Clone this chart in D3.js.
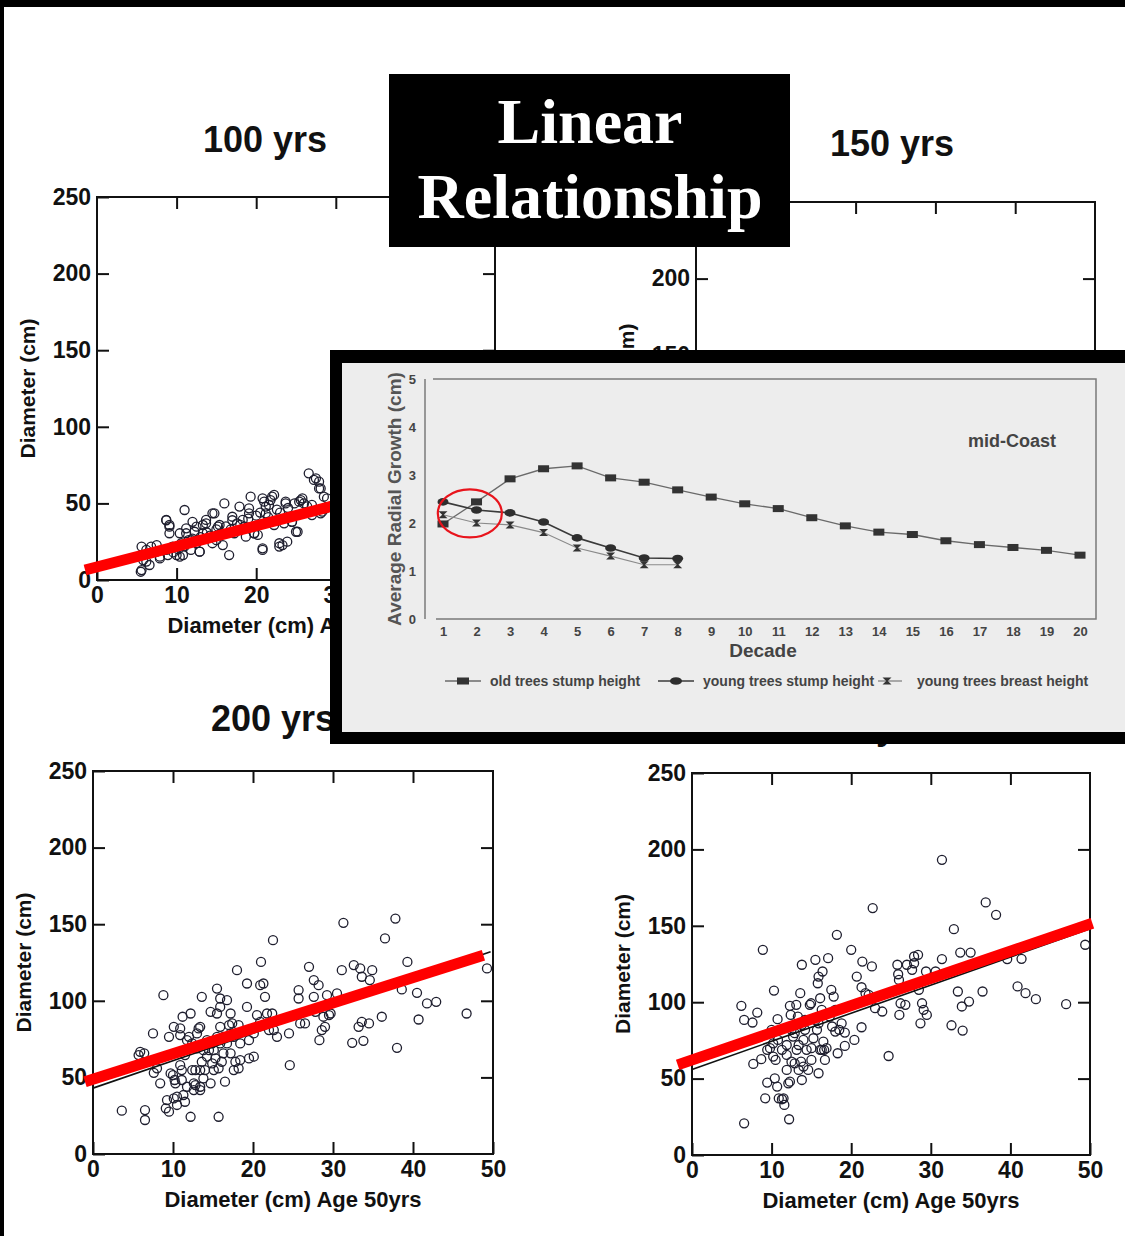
<!DOCTYPE html>
<html>
<head>
<meta charset="utf-8">
<script src="https://cdn.jsdelivr.net/npm/d3@7"></script>
<style>
  html, body { margin: 0; padding: 0; background: #fff; }
  svg { display: block; }
</style>
</head>
<body>
<svg id="chart" width="1125" height="1236"></svg>
<script>
// ---- scatter panels: axis values ----
const xTicks = [0, 10, 20, 30, 40, 50];
const yTicks = [0, 50, 100, 150, 200, 250];
const innerXTicks = [10, 20, 30, 40];
const innerYTicks = [50, 100, 150, 200];
const xLabel = "Diameter (cm) Age 50yrs";
const yLabel = "Diameter (cm)";

// ---- 100 yrs (top left), [diameter at 50, diameter] ----
const pts100 = [
  [5.5,5.4],[5.6,21.8],[6.2,12],[6.6,9.8],[7.5,18.5],[7.9,14.1],[8.7,39.2],[9.1,35.9],[9.1,30.5],
  [8.9,16.3],[10,16.3],[10.4,30.5],[10.8,16.3],[11,45.7],[11.2,33.7],[12,38],[12.25,31.5],[12.5,24],
  [12.9,18.5],[13.3,35.9],[13.7,39.2],[14.5,24],[14.75,43.5],[15.4,35.9],[15.8,22.8],[16,50],[16.6,16.3],
  [17,41.3],[17.9,47.9],[18.3,39.2],[18.7,28.3],[19.1,46.8],[19.3,54.4],[19.75,30.5],[20.2,29.4],[20.8,53.3],
  [20.8,19.6],[21.2,47.9],[21.6,49],[22,54.4],[22.25,35.9],[22.9,24],[23.3,22.8],[23.9,25],[23.7,51.1],
  [24.5,38],[25.2,31.5],[25.4,51.1],[25.8,53.3],[26.6,69.6],[27,42.4],[27.25,65.3],[27.9,64.2],[28.1,59.8],
  [28.3,44.6],[28.7,46.8],[28.9,53.3],
  [5.6,6.5],[5.8,13],[6.2,19.6],[6.8,21.8],[7.5,22.8],[7.9,15.2],[8.7,39],[9.1,34.8],[8.7,19.6],[9.5,21.8],
  [10.4,15.2],[10.6,24],[11.2,30.5],[11.8,19.6],[12.5,34.8],[12.9,18.5],[13.3,30.5],[13.7,37],[14.5,43.5],
  [15,26],[15.2,34.8],[15.6,30.5],[17,39],[17.25,30.5],[18.5,34.8],[19.1,43.5],[19.75,30.5],[20.8,20.7],
  [21,51.1],[21.2,43.5],[21.8,52.2],[22.25,55.5],[22.9,21.8],[23.5,37],[23.7,50],[24.5,38],[25,31.5],
  [25.6,52.2],[27,49],[27.5,66.4],[27.9,59.8],[28.1,43.5],[28.5,54.4],
  [9.6,18],[10.2,20],[11,22],[11.5,26],[12,27],[13,28],[13.8,31],[14.2,29],[15,33],[16.2,35],[16.8,33],
  [17.6,37],[18,36],[19,40],[20,42],[20.5,44],[21.5,41],[22.6,46],[23,44],[24,47],[24.8,50],[26,50],[26.4,48]
];
const red100 = [[-1.5, 6.5], [48, 73]];

// ---- 150 yrs (top right): fully covered below 150 cm ----
const pts150 = [];

// ---- 200 yrs (bottom left) ----
const pts200 = [
  [3.6,28.3],[6.5,28.7],[6.5,22.2],[5.9,66.7],[5.7,64.6],[6.4,65.7],[7.5,78.7],[7.6,53],[8,55.9],[8.4,46.1],
  [8.8,103.7],[9.25,35.2],[9.1,29.8],[9.5,27.6],[9.5,76.5],[10,51.5],[10.1,83],[10.2,48.3],[10.3,46.1],
  [10.5,37.4],[10.5,32],[10.9,82],[10.9,77.6],[10.9,58],[11.1,48.3],[11.2,89.6],[11.3,38.5],[11.5,34.1],
  [11.75,43.9],[12,76.5],[12.2,91.7],[12.2,24.3],[12.4,54.8],[12.6,46.1],[12.6,41.7],[12.8,54.8],[13,78.7],
  [13.2,82],[13.4,83],[13.6,102.6],[13.6,60.2],[13.8,49.3],[14,54.8],[14.25,63.5],[14.5,67.8],[14.7,92.8],
  [14.9,59.1],[15.1,54.8],[15.3,62.4],[15.5,108],[15.5,91.7],[15.7,24.3],[15.7,55.9],[15.9,83],[15.9,96],
  [16.1,60.2],[16.3,65.7],[16.5,47.2],[16.75,100.4],[16.75,72.2],[17,84.1],[17.2,65.7],[17.4,85.2],[17.6,54.8],
  [17.8,60.2],[18,120],[18.2,55.9],[18.2,84.1],[18.4,61.3],[19.25,111.3],[19.25,96],[19.5,62.4],[20.1,63.5],
  [20.5,90.7],[20.9,110.2],[21,125.4],[21.3,111.3],[21.5,102.6],[21.75,91.7],[22,80.9],[22.4,91.7],[22.5,139.6],
  [22.6,80.9],[23,76.5],[24.5,78.7],[24.6,58],[25.7,107],[25.7,101.5],[25.9,85.2],[26.5,85.2],[27,122.2],
  [27.6,113.5],[27.6,102.6],[27.8,92.8],[28.2,110.2],[28.3,74.3],[28.6,80.9],[28.8,89.6],[29,83],[29.25,103.7],
  [29.5,90.7],[29.7,91.7],[30.5,104.8],[31.3,150.9],[31.1,120],[32.4,72.6],[32.6,123.3],[33.2,83],[33.4,121.1],
  [33.6,115.7],[33.6,86.3],[33.8,73.9],[34.5,85.2],[34.6,113.5],[34.9,120],[36.1,89.6],[36.5,140.7],[37.8,153.7],
  [38,69.3],[38.6,107.4],[39.3,125.4],[40.5,105.2],[40.7,87.8],[41.75,98.3],[42.9,99.3],[46.7,91.7],[49.25,121.1],
  [11.75,74.3],[12.4,72.2],[13,68.9],[13.8,67.8],[14.25,74.3],[14.9,72.2],[15.5,76.5],[16.3,76.5],[17.2,78.7],
  [14.7,46.1],[13.4,43.9],[12.8,45],[11.1,54.8],[11.5,64.6],[13.4,54.8],[15.1,67.8],[15.9,72.2],[17.6,76.5],
  [18.4,72.2],[19.5,74.3],[20.9,86.3],[20.1,78.7],[17.2,91.7],[15.9,101.5],[10.1,36.3],[9.7,52.6],[13.4,41.7]
];
const red200 = [[-1, 47.2], [48.8, 129.8]];
const fit200 = [[0, 43], [49.7, 132]];

// ---- 250 yrs (bottom right) ----
const pts250 = [
  [6.55,20.7],[6.2,97.6],[6.55,88.4],[7.6,86.7],[7.7,59.6],[8.2,93.2],[8.7,62.7],[8.9,134.3],[9.2,37.1],
  [9.45,47.4],[9.45,68.8],[9.8,69.9],[10,81.9],[10.2,64.4],[10.3,107.6],[10.4,50.2],[10.5,62.2],[10.7,44.8],
  [10.75,88.9],[10.8,75.3],[10.9,37.1],[11.3,36.5],[11.5,37.1],[11.6,32.8],[11.9,55.7],[11.9,72],[11.9,65.5],
  [12.2,23.4],[12.3,48],[12.3,97.6],[12.4,91.7],[12.5,81.9],[12.5,61.1],[12.7,77.5],[12.9,60],[13.1,98.3],
  [13.15,68.8],[13.3,90.6],[13.4,72],[13.6,105.9],[13.7,61.1],[13.8,124.5],[13.8,85.2],[14,75.3],[14,57.9],
  [14.2,81.9],[14.4,68.8],[14.6,55.7],[14.8,98.3],[14.96,99.3],[15,69.9],[15.25,76.4],[15.5,127.7],[15.7,81.9],
  [15.8,112.4],[15.9,53.5],[15.9,116.8],[16.1,102.6],[16.1,68.8],[16.3,68.8],[16.4,120.1],[16.5,74.2],[16.6,68.8],
  [16.7,62.2],[16.9,69.9],[17.1,128.8],[17.3,90.6],[17.5,108.1],[17.6,84.1],[17.8,103.7],[18,80.8],[18.2,144.1],
  [18.3,66.6],[18.5,81.9],[19.2,80.1],[19.2,71.4],[20,134.3],[20.4,75.3],[20.7,116.8],[21.3,109.8],[21.3,83.6],
  [21.4,126.6],[21.8,105.9],[22.2,104.8],[22.6,123.4],[22.7,161.6],[23,96.1],[23.9,93.9],[24.7,64.8],[25.8,124.5],
  [25.9,118.3],[26,114.6],[26.05,91.7],[26.2,99.3],[26.8,98.3],[27,124.5],[27.65,121.2],[27.9,125.5],[27.9,129.9],
  [28.4,131],[28.5,108.1],[28.7,86.2],[28.9,99.3],[29.1,95],[29.4,120.1],[29.5,91.7],[30.6,120.1],[31.4,193.2],
  [31.4,128.2],[32.6,84.9],[32.9,147.8],[33.4,107],[33.7,132.5],[33.9,97.2],[34,81.4],[34.8,100.4],[35,132.5],
  [36.5,107],[36.9,165.3],[38.2,157.2],[39.6,128.2],[40.9,110.3],[41.4,128.4],[41.9,105.9],[43.2,102],[47,98.7],
  [49.4,137.6],
  [12.9,79.7],[14.2,88.4],[15.5,88.4],[16.3,95],[18,95],[18.8,86.2],[13.4,55.7],[15,62.2],[12.1,46.9],
  [13.8,49.1],[11.3,68.8],[10.2,73.1],[15.9,86.2]
];
const red250 = [[-1.8, 59], [50.3, 151.7]];
const fit250 = [[0, 56], [50, 148]];

// ---- inset: mid-Coast radial growth ----
const decades = [1,2,3,4,5,6,7,8,9,10,11,12,13,14,15,16,17,18,19,20];
const growthTicks = [0, 1, 2, 3, 4, 5];
const oldStump = [1.98,2.44,2.92,3.13,3.19,2.94,2.85,2.69,2.54,2.40,2.30,2.11,1.94,1.81,1.76,1.63,1.55,1.49,1.43,1.33];
const youngStump = [2.44,2.27,2.21,2.02,1.69,1.48,1.27,1.26];
const youngBreast = [2.17,2.00,1.96,1.80,1.48,1.31,1.13,1.13];
const seriesNames = ["old trees stump height", "young trees stump height", "young trees breast height"];

const W = 1125, H = 1236;
const SANS = "'Liberation Sans', Arial, Helvetica, sans-serif";
const SERIF = "'Liberation Serif', 'Times New Roman', serif";

const svg = d3.select("#chart");
svg.append("rect").attr("width", W).attr("height", H).attr("fill", "#fff");

// scatter panel; "covered" skips texts that the overlays hide completely,
// "maxXLabel" drops bottom tick labels hidden under the inset
function drawPanel(cfg) {
  const x = d3.scaleLinear().domain([0, 50]).range([cfg.left, cfg.left + cfg.w]);
  const y = d3.scaleLinear().domain([0, 250]).range([cfg.top + cfg.h, cfg.top]);
  const g = svg.append("g");
  const covered = cfg.covered || false;
  const maxXLabel = cfg.maxXLabel == null ? 50 : cfg.maxXLabel;

  g.append("text")
    .attr("x", cfg.titleX).attr("y", cfg.titleY)
    .attr("text-anchor", "middle")
    .style("font", `bold 36px ${SANS}`)
    .attr("fill", "#111")
    .text(cfg.title);

  g.append("g")
    .attr("transform", `translate(0,${cfg.top + cfg.h})`)
    .call(d3.axisBottom(x).tickValues(xTicks).tickSizeInner(-12).tickSizeOuter(0).tickPadding(7)
      .tickFormat(d => (covered || d > maxXLabel) ? "" : d));
  g.append("g")
    .attr("transform", `translate(${cfg.left},0)`)
    .call(d3.axisLeft(y).tickValues(covered ? innerYTicks : yTicks).tickSizeInner(-12).tickSizeOuter(0).tickPadding(6));
  g.append("g")
    .attr("transform", `translate(0,${cfg.top})`)
    .call(d3.axisTop(x).tickValues(innerXTicks).tickSizeInner(-12).tickSizeOuter(0).tickFormat(""));
  g.append("g")
    .attr("transform", `translate(${cfg.left + cfg.w},0)`)
    .call(d3.axisRight(y).tickValues(innerYTicks).tickSizeInner(-12).tickSizeOuter(0).tickFormat(""));

  g.selectAll(".domain").remove();
  g.selectAll(".tick line").attr("stroke", "#111").attr("stroke-width", 2);
  g.selectAll(".tick text")
    .attr("fill", "#111")
    .style("font", `bold 23px ${SANS}`);

  g.append("rect")
    .attr("x", cfg.left).attr("y", cfg.top)
    .attr("width", cfg.w).attr("height", cfg.h)
    .attr("fill", "none").attr("stroke", "#111").attr("stroke-width", 2);

  if (!covered) {
    g.append("text")
      .attr("x", cfg.left + cfg.w / 2).attr("y", cfg.top + cfg.h + 53)
      .attr("text-anchor", "middle")
      .style("font", `bold 22px ${SANS}`)
      .attr("fill", "#111")
      .text(xLabel);
  }
  g.append("text")
    .attr("transform", `translate(${cfg.left - 62},${cfg.top + cfg.h / 2}) rotate(-90)`)
    .attr("text-anchor", "middle")
    .style("font", `bold 21px ${SANS}`)
    .attr("fill", "#111")
    .text(yLabel);

  g.selectAll("circle.pt")
    .data(cfg.points)
    .enter()
    .append("circle")
      .attr("class", "pt")
      .attr("cx", d => x(d[0]))
      .attr("cy", d => y(d[1]))
      .attr("r", 4.5)
      .attr("fill", "none")
      .attr("stroke", "#1e1e2e")
      .attr("stroke-width", 1.3);

  const line = d3.line().x(d => x(d[0])).y(d => y(d[1]));
  if (cfg.fit) {
    g.append("path").attr("d", line(cfg.fit))
      .attr("stroke", "#111").attr("stroke-width", 1.6).attr("fill", "none");
  }
  if (cfg.red) {
    g.append("path").attr("d", line(cfg.red))
      .attr("stroke", "#ff0000").attr("stroke-width", 11).attr("fill", "none");
  }
}

drawPanel({ left: 97, top: 197, w: 398, h: 383, title: "100 yrs", titleX: 265, titleY: 152, points: pts100, red: red100, maxXLabel: 30 });
drawPanel({ left: 696, top: 202, w: 399, h: 383, title: "150 yrs", titleX: 892, titleY: 156, points: pts150, covered: true });
drawPanel({ left: 93, top: 771, w: 400, h: 383, title: "200 yrs", titleX: 273, titleY: 731, points: pts200, red: red200, fit: fit200 });
drawPanel({ left: 692, top: 773, w: 398, h: 382, title: "250 yrs", titleX: 868, titleY: 739, points: pts250, red: red250, fit: fit250 });

// title box
svg.append("rect").attr("x", 389).attr("y", 74).attr("width", 401).attr("height", 173).attr("fill", "#000");
svg.append("text").attr("x", 590).attr("y", 143).attr("text-anchor", "middle")
  .style("font", `bold 64px ${SERIF}`).attr("fill", "#fff").text("Linear");
svg.append("text").attr("x", 590).attr("y", 218).attr("text-anchor", "middle")
  .style("font", `bold 64px ${SERIF}`).attr("fill", "#fff").text("Relationship");

// inset chart
svg.append("rect").attr("x", 330).attr("y", 350).attr("width", 795).attr("height", 394).attr("fill", "#000");
svg.append("rect").attr("x", 342).attr("y", 363).attr("width", 783).attr("height", 369).attr("fill", "#ededed");

const xs = d3.scaleLinear().domain([1, 20]).range([443, 1080]);
const ys = d3.scaleLinear().domain([0, 5]).range([619, 379]);
const inset = svg.append("g");
const GRAY = "#444";

inset.append("path")
  .attr("d", "M433,379H1096V619H436")
  .attr("fill", "none").attr("stroke", "#7a7a7a").attr("stroke-width", 1.5);
inset.append("line").attr("x1", 425).attr("x2", 425).attr("y1", 379).attr("y2", 619)
  .attr("stroke", "#7a7a7a").attr("stroke-width", 1.5);

inset.append("g")
  .attr("transform", "translate(416,0)")
  .call(d3.axisLeft(ys).tickValues(growthTicks).tickFormat(d3.format("d")).tickSize(0).tickPadding(0));
inset.append("g")
  .attr("transform", "translate(0,619)")
  .call(d3.axisBottom(xs).tickValues(decades).tickFormat(d3.format("d")).tickSize(0).tickPadding(8));
inset.selectAll(".domain").remove();
inset.selectAll(".tick text").attr("fill", GRAY).style("font", `bold 13px ${SANS}`);

inset.append("text")
  .attr("transform", "translate(401,499) rotate(-90)")
  .attr("text-anchor", "middle")
  .style("font", `bold 19px ${SANS}`).attr("fill", "#555")
  .text("Average Radial Growth (cm)");
inset.append("text")
  .attr("x", 763).attr("y", 657).attr("text-anchor", "middle")
  .style("font", `bold 19px ${SANS}`).attr("fill", GRAY)
  .text("Decade");
inset.append("text")
  .attr("x", 1012).attr("y", 447).attr("text-anchor", "middle")
  .style("font", `bold 18px ${SANS}`).attr("fill", GRAY)
  .text("mid-Coast");

const gl = d3.line().x((d, i) => xs(decades[i])).y(d => ys(d));
inset.append("path").attr("d", gl(oldStump)).attr("fill", "none").attr("stroke", "#6a6a6a").attr("stroke-width", 1.3);
inset.append("path").attr("d", gl(youngStump)).attr("fill", "none").attr("stroke", "#3a3a3a").attr("stroke-width", 1.6);
inset.append("path").attr("d", gl(youngBreast)).attr("fill", "none").attr("stroke", "#8a8a8a").attr("stroke-width", 1.1);

const hourglass = "M-4.5,-3.5H4.5L0.8,0L4.5,3.5H-4.5L-0.8,0Z";
inset.selectAll("rect.old").data(oldStump).enter().append("rect")
  .attr("x", (d, i) => xs(decades[i]) - 5.5).attr("y", d => ys(d) - 3.5)
  .attr("width", 11).attr("height", 7).attr("fill", "#333");
inset.selectAll("ellipse.ys").data(youngStump).enter().append("ellipse")
  .attr("cx", (d, i) => xs(decades[i])).attr("cy", d => ys(d))
  .attr("rx", 5.5).attr("ry", 3.8).attr("fill", "#2e2e2e");
inset.selectAll("path.yb").data(youngBreast).enter().append("path")
  .attr("transform", (d, i) => `translate(${xs(decades[i])},${ys(d)})`)
  .attr("d", hourglass).attr("fill", "#333");

// red annotation circle
inset.append("ellipse")
  .attr("cx", xs(1.8)).attr("cy", ys(2.2)).attr("rx", 32).attr("ry", 24)
  .attr("fill", "none").attr("stroke", "#e8141c").attr("stroke-width", 2.2);

// legend
const legend = [
  { x1: 445, x2: 481, tx: 490, mark: "rect", line: "#6a6a6a" },
  { x1: 658, x2: 694, tx: 703, mark: "ellipse", line: "#3a3a3a" },
  { x1: 878, x2: 902, tx: 917, mark: "hour", line: "#8a8a8a" }
];
legend.forEach((l, i) => {
  const ly = 681;
  inset.append("line").attr("x1", l.x1).attr("x2", l.x2).attr("y1", ly).attr("y2", ly)
    .attr("stroke", l.line).attr("stroke-width", 1.4);
  const cx = (l.x1 + l.x2) / 2;
  if (l.mark === "rect") {
    inset.append("rect").attr("x", cx - 6).attr("y", ly - 3.5).attr("width", 12).attr("height", 7).attr("fill", "#333");
  } else if (l.mark === "ellipse") {
    inset.append("ellipse").attr("cx", cx).attr("cy", ly).attr("rx", 6).attr("ry", 3.8).attr("fill", "#2e2e2e");
  } else {
    inset.append("path").attr("transform", `translate(${cx - 3},${ly})`).attr("d", hourglass).attr("fill", "#333");
  }
  inset.append("text").attr("x", l.tx).attr("y", ly + 4.5)
    .style("font", `bold 14px ${SANS}`).attr("fill", GRAY)
    .text(seriesNames[i]);
});

// black frame edges of the slide
svg.append("rect").attr("x", 0).attr("y", 0).attr("width", W).attr("height", 7).attr("fill", "#000");
svg.append("rect").attr("x", 0).attr("y", 0).attr("width", 4).attr("height", H).attr("fill", "#000");
</script>
</body>
</html>
